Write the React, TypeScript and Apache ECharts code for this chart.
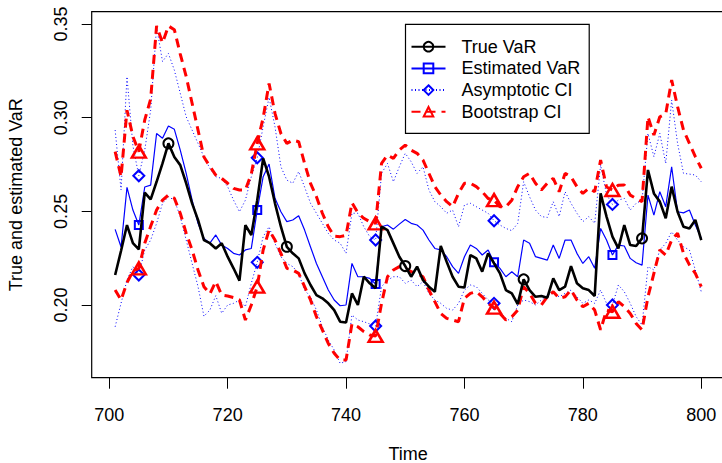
import React, { useEffect, useRef } from "react";
import * as echarts from "echarts";

const TIME_START = 701;

const trueVaR = [
  0.216, 0.229, 0.2427, 0.233, 0.2297, 0.26, 0.2564, 0.2658, 0.2756, 0.2863,
  0.279, 0.2747, 0.265, 0.2543, 0.2454, 0.2347, 0.233, 0.2302, 0.233, 0.2258,
  0.2196, 0.213, 0.2427, 0.2374, 0.256, 0.2783, 0.2685, 0.2543, 0.2418, 0.2311,
  0.2276, 0.2249, 0.2169, 0.2107, 0.2053, 0.2036, 0.2009, 0.1973, 0.1911, 0.1907,
  0.2062, 0.2, 0.2151, 0.2116, 0.209, 0.2418, 0.24, 0.2329, 0.2258, 0.2208,
  0.2151, 0.2205, 0.2133, 0.2098, 0.2071, 0.2315, 0.2231, 0.2151, 0.2098, 0.2094,
  0.2267, 0.2249, 0.2178, 0.2276, 0.2222, 0.2169, 0.208, 0.2062, 0.2005, 0.2137,
  0.208, 0.2044, 0.2048, 0.2039, 0.2142, 0.208, 0.2098, 0.2208, 0.2116, 0.2089,
  0.208, 0.2048, 0.2596, 0.2472, 0.2365, 0.2302, 0.2427, 0.232, 0.2315, 0.2356,
  0.2721, 0.2596, 0.2552, 0.2463, 0.2632, 0.2498, 0.2418, 0.2409, 0.2454, 0.2347,
];

const estimatedVaR = [
  0.2404, 0.231, 0.2628, 0.2507, 0.2427, 0.263, 0.264, 0.2916, 0.289, 0.2956,
  0.2938, 0.2827, 0.2703, 0.256, 0.2436, 0.2356, 0.233, 0.2374, 0.232, 0.2302,
  0.2276, 0.2267, 0.2294, 0.2302, 0.2507, 0.2685, 0.2753, 0.257, 0.2498, 0.2445,
  0.2454, 0.2477, 0.24, 0.231, 0.2222, 0.2151, 0.208, 0.2027, 0.1996, 0.2,
  0.2222, 0.2151, 0.2151, 0.2142, 0.2112, 0.2418, 0.2427, 0.2405, 0.2432, 0.2457,
  0.2436, 0.2427, 0.24, 0.2347, 0.2302, 0.2294, 0.2258, 0.2205, 0.2169, 0.2258,
  0.232, 0.2302, 0.2267, 0.2294, 0.2228, 0.2196, 0.2151, 0.2178, 0.2151, 0.2347,
  0.233, 0.2258, 0.2249, 0.224, 0.232, 0.2249, 0.2347, 0.2347, 0.2276, 0.2222,
  0.2258, 0.2196, 0.2409, 0.2347, 0.2267, 0.232, 0.2315, 0.2249, 0.2226, 0.2213,
  0.2587, 0.248, 0.2605, 0.2525, 0.2738, 0.2498, 0.2492, 0.2507, 0.2427, 0.2356,
];

const asymUpper = [
  0.2934, 0.2614, 0.3219, 0.285, 0.269, 0.2827, 0.304, 0.3486, 0.33, 0.3343,
  0.3254, 0.313, 0.3005, 0.2934, 0.2863, 0.279, 0.273, 0.2685, 0.2676, 0.2632,
  0.256, 0.2498, 0.256, 0.2685, 0.2786, 0.2952, 0.3109, 0.2952, 0.2738, 0.2667,
  0.265, 0.2712, 0.263, 0.2543, 0.249, 0.2436, 0.2383, 0.2347, 0.233, 0.2276,
  0.249, 0.249, 0.2418, 0.2365, 0.2347, 0.2703, 0.2756, 0.2658, 0.2738, 0.281,
  0.2765, 0.2703, 0.2738, 0.2614, 0.2552, 0.2525, 0.249, 0.2507, 0.2418, 0.2534,
  0.2543, 0.2525, 0.2507, 0.249, 0.245, 0.2427, 0.2409, 0.2397, 0.2436, 0.2658,
  0.2578, 0.2507, 0.2472, 0.2468, 0.2552, 0.2472, 0.2605, 0.2543, 0.249, 0.2445,
  0.2472, 0.2436, 0.2747, 0.259, 0.2537, 0.256, 0.2569, 0.2507, 0.2543, 0.256,
  0.2916, 0.2792, 0.2916, 0.2756, 0.3094, 0.2863, 0.2703, 0.2699, 0.2694, 0.2658,
];

const asymLower = [
  0.1884, 0.201, 0.2133, 0.2205, 0.216, 0.2294, 0.2347, 0.2436, 0.2543, 0.2578,
  0.256, 0.2472, 0.2347, 0.2222, 0.2098, 0.194, 0.1973, 0.205, 0.1956, 0.2,
  0.2009, 0.2027, 0.1991, 0.2116, 0.2228, 0.2365, 0.2418, 0.2329, 0.2258, 0.2222,
  0.2205, 0.2169, 0.208, 0.2044, 0.1973, 0.1884, 0.1813, 0.176, 0.1689, 0.1698,
  0.1947, 0.192, 0.1911, 0.1899, 0.1888, 0.2098, 0.2133, 0.2151, 0.2151, 0.2116,
  0.2133, 0.2098, 0.2125, 0.2062, 0.2027, 0.2009, 0.1982, 0.1973, 0.2009, 0.208,
  0.2107, 0.2098, 0.2062, 0.2027, 0.2009, 0.1964, 0.1929, 0.1911, 0.2, 0.2027,
  0.2018, 0.2, 0.2027, 0.2053, 0.2062, 0.2044, 0.2062, 0.208, 0.2044, 0.2009,
  0.2027, 0.2009, 0.208, 0.2009, 0.2, 0.2107, 0.2071, 0.2009, 0.1938, 0.1893,
  0.2205, 0.2187, 0.2294, 0.2329, 0.2391, 0.2347, 0.2311, 0.2294, 0.2187, 0.2071,
];

const bootUpper = [
  0.2819, 0.2685, 0.304, 0.29, 0.2819, 0.2988, 0.31, 0.349, 0.34, 0.349,
  0.347, 0.334, 0.322, 0.3077, 0.2934, 0.279, 0.274, 0.2694, 0.2676, 0.265,
  0.2623, 0.2614, 0.2614, 0.27, 0.2863, 0.3, 0.3183, 0.3023, 0.2916, 0.2863,
  0.288, 0.2872, 0.2756, 0.265, 0.2578, 0.249, 0.2418, 0.2368, 0.2365, 0.2372,
  0.2546, 0.2492, 0.2463, 0.2445, 0.2436, 0.2756, 0.28, 0.2783, 0.2827, 0.2854,
  0.2827, 0.281, 0.2774, 0.2703, 0.2632, 0.2587, 0.2552, 0.2525, 0.2596, 0.265,
  0.265, 0.2632, 0.2605, 0.2569, 0.256, 0.2525, 0.2525, 0.256, 0.2632, 0.2685,
  0.2703, 0.265, 0.2614, 0.265, 0.2676, 0.2605, 0.2703, 0.2685, 0.2632, 0.2596,
  0.2623, 0.2605, 0.2774, 0.263, 0.2614, 0.264, 0.2641, 0.2587, 0.2569, 0.2552,
  0.3005, 0.2907, 0.3005, 0.302, 0.3201, 0.3059, 0.2934, 0.2863, 0.2792, 0.273,
];

const bootLower = [
  0.208, 0.2027, 0.212, 0.218, 0.2196, 0.233, 0.242, 0.2507, 0.256, 0.2587,
  0.257, 0.249, 0.2383, 0.2294, 0.2187, 0.2098, 0.206, 0.2125, 0.2053, 0.2048,
  0.204, 0.2027, 0.192, 0.2, 0.2098, 0.2294, 0.24, 0.2347, 0.2276, 0.2196,
  0.2187, 0.2169, 0.2098, 0.2027, 0.1938, 0.1867, 0.1795, 0.1742, 0.1706, 0.1706,
  0.19, 0.1884, 0.1858, 0.184, 0.1835, 0.2009, 0.2151, 0.2187, 0.2205, 0.2196,
  0.2178, 0.2169, 0.2151, 0.208, 0.2018, 0.1955, 0.1929, 0.192, 0.1911, 0.2036,
  0.2062, 0.2071, 0.2044, 0.2009, 0.1986, 0.1955, 0.192, 0.1938, 0.1973, 0.2098,
  0.2062, 0.2009, 0.2, 0.2044, 0.2071, 0.2036, 0.2044, 0.208, 0.2027, 0.1991,
  0.2009, 0.1973, 0.1867, 0.1973, 0.1964, 0.2018, 0.1991, 0.1955, 0.1902, 0.1867,
  0.2044, 0.2169, 0.2294, 0.2267, 0.2347, 0.2383, 0.2276, 0.2214, 0.2169, 0.2098,
];

const circleTimes = [710, 730, 750, 770, 790];
const markTimes = [705, 725, 745, 765, 785];
const xTicks = [700, 720, 740, 760, 780, 800];
const yTicks = [0.2, 0.25, 0.3, 0.35];

const LEGEND_NAMES = ["True VaR", "Estimated VaR", "Asymptotic CI", "Bootstrap CI"];

const FONT = "'Liberation Sans', Arial, Helvetica, sans-serif";

function build(values: number[], marks: number[]) {
  return values.map((v, i) => {
    const t = TIME_START + i;
    return marks.includes(t) ? [t, v] : { value: [t, v], symbol: "none" };
  });
}

export default function App() {
  const ref = useRef<HTMLDivElement>(null);

  useEffect(() => {
    if (!ref.current) return;
    const chart = echarts.init(ref.current, undefined, { renderer: "svg" });

    const dotted = (name: string, vals: number[]) => ({
      name,
      type: "line",
      data: build(vals, markTimes),
      symbol: "diamond",
      symbolSize: 11,
      showSymbol: true,
      lineStyle: { color: "#0000ff", width: 1, type: [1, 2.5] },
      itemStyle: { color: "rgba(255,255,255,0)", borderColor: "#0000ff", borderWidth: 2 },
      z: 2,
    });
    const dashed = (name: string, vals: number[]) => ({
      name,
      type: "line",
      data: build(vals, markTimes),
      symbol: "triangle",
      symbolSize: [14, 12],
      showSymbol: true,
      lineStyle: { color: "#ff0000", width: 3, type: [9, 6] },
      itemStyle: { color: "rgba(255,255,255,0)", borderColor: "#ff0000", borderWidth: 2.5 },
      z: 3,
    });

    chart.setOption({
      animation: false,
      backgroundColor: "#ffffff",
      textStyle: { fontFamily: FONT },
      grid: {
        left: 91.7,
        top: 11.7,
        width: 633,
        height: 366,
        containLabel: false,
        outerBoundsMode: "none",
        show: true,
        borderColor: "#000",
        borderWidth: 1.2,
        backgroundColor: "transparent",
        z: 10,
      },
      legend: {
        data: LEGEND_NAMES,
        orient: "vertical",
        left: 405.5,
        top: 24.3,
        padding: [13.4, 9, 12.6, 5],
        itemGap: 3.7,
        itemWidth: 34,
        itemHeight: 12,
        borderColor: "#000",
        borderWidth: 1.2,
        backgroundColor: "#fff",
        textStyle: {
          fontFamily: FONT,
          fontSize: 18,
          color: "#000",
          lineHeight: 18,
          padding: [0, 0, 0, 11],
        },
        z: 20,
      },
      xAxis: {
        type: "value",
        min: 697.04,
        max: 803.96,
        name: "Time",
        nameLocation: "middle",
        nameGap: 68,
        nameTextStyle: { fontFamily: FONT, fontSize: 18, color: "#000", lineHeight: 16 },
        axisLine: { show: false },
        splitLine: { show: false },
        axisTick: {
          show: true,
          length: 11,
          lineStyle: { color: "#000", width: 1 },
          customValues: xTicks,
        },
        axisLabel: {
          fontFamily: FONT,
          fontSize: 18,
          color: "#000",
          margin: 28,
          customValues: xTicks,
          formatter: (v: number) => String(v),
        },
      },
      yAxis: {
        type: "value",
        min: 0.1612,
        max: 0.3566,
        name: "True and estimated VaR",
        nameLocation: "middle",
        nameRotate: 90,
        nameGap: 67,
        nameTextStyle: { fontFamily: FONT, fontSize: 18, color: "#000" },
        axisLine: { show: false },
        splitLine: { show: false },
        axisTick: {
          show: true,
          length: 10,
          lineStyle: { color: "#000", width: 1 },
          customValues: yTicks,
        },
        axisLabel: {
          fontFamily: FONT,
          fontSize: 18,
          color: "#000",
          rotate: 90,
          margin: 22,
          customValues: yTicks,
          formatter: (v: number) => v.toFixed(2),
        },
      },
      series: [
        dotted("Asymptotic CI", asymUpper),
        dotted("Asymptotic CI", asymLower),
        dashed("Bootstrap CI", bootUpper),
        dashed("Bootstrap CI", bootLower),
        {
          name: "Estimated VaR",
          type: "line",
          data: build(estimatedVaR, markTimes),
          symbol: "rect",
          symbolSize: 8,
          showSymbol: true,
          lineStyle: { color: "#0000ff", width: 1.2 },
          itemStyle: { color: "rgba(255,255,255,0)", borderColor: "#0000ff", borderWidth: 2 },
          z: 4,
        },
        {
          name: "True VaR",
          type: "line",
          data: build(trueVaR, circleTimes),
          symbol: "circle",
          symbolSize: 10,
          showSymbol: true,
          lineStyle: { color: "#000000", width: 2.6 },
          itemStyle: { color: "rgba(255,255,255,0)", borderColor: "#000000", borderWidth: 2 },
          z: 5,
        },
      ],
    });

    return () => chart.dispose();
  }, []);

  return (
    <div
      ref={ref}
      style={{ position: "absolute", left: 0, top: 0, width: 722, height: 463 }}
    />
  );
}
